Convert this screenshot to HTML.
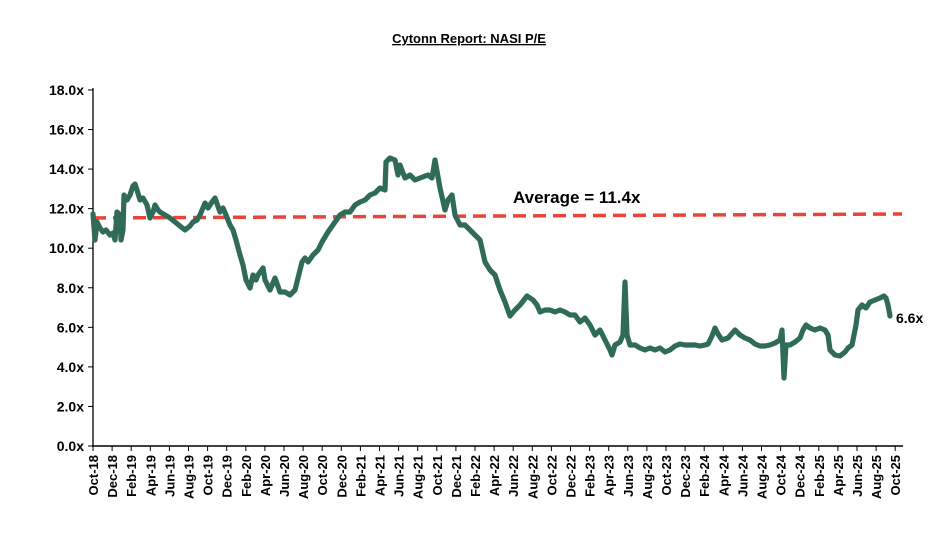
<!DOCTYPE html>
<html><head><meta charset="utf-8"><style>
body{margin:0;background:#fff;}
svg text{font-family:"Liberation Sans",Arial,sans-serif;font-weight:bold;fill:#000;}
</style></head><body>
<svg width="938" height="532" viewBox="0 0 938 532" xmlns="http://www.w3.org/2000/svg">
<text x="469" y="43" font-size="13" text-anchor="middle" text-decoration="underline">Cytonn Report: NASI P/E</text>
<line x1="93" y1="446" x2="93" y2="88" stroke="#000" stroke-width="1.3"/>
<line x1="92" y1="446" x2="903" y2="446" stroke="#000" stroke-width="1.5"/>
<g font-size="14" text-anchor="end" id="yl"></g>
<g id="ticks"></g>
<g id="xl" font-size="13"></g>
<line x1="93" y1="218" x2="902" y2="214" stroke="#e8443a" stroke-width="3.5" stroke-dasharray="13,7"/>
<polyline id="ser" fill="none" stroke="#2f6b58" stroke-width="5.2" stroke-linejoin="round" stroke-linecap="round" points="93,214 95,240 97,222 100,228 103,232 106,230 110,235 113,233 115,240 117,212 120,215 121,240 123,230 124,195 127,200 130,195 133,186 135,184 137,190 140,200 143,198 147,205 150,218 153,212 155,205 158,210 160,212 165,215 170,218 175,222 180,226 185,230 190,226 193,222 197,220 200,215 205,203 208,208 212,202 215,198 220,212 223,208 226,215 230,225 233,230 236,240 240,255 243,265 246,280 250,288 253,275 256,280 258,275 263,268 265,280 270,290 275,278 280,292 285,292 290,295 295,290 298,278 302,262 305,258 308,262 313,255 318,250 322,242 328,232 335,222 340,215 345,212 350,212 355,205 360,202 365,200 370,195 375,193 380,188 385,190 386,162 390,158 395,160 398,175 400,165 405,178 410,175 415,180 420,178 428,175 432,178 435,160 440,188 445,210 448,200 452,195 455,215 460,225 465,225 470,230 475,235 480,240 485,262 490,270 495,275 500,290 505,302 510,316 515,310 520,305 527,296 533,300 537,305 540,312 545,310 550,310 555,312 560,310 565,312 570,315 575,315 580,322 585,318 590,325 595,335 600,330 605,340 610,350 612,355 615,345 620,342 623,335 625,282 627,335 630,345 635,345 640,348 645,350 650,348 655,350 660,348 665,352 670,350 675,346 680,344 685,345 690,345 695,345 700,346 705,345 708,344 712,336 715,328 718,334 722,340 728,338 735,330 740,335 745,338 750,340 755,344 760,346 765,346 770,345 775,343 780,340 782,330 784,378 786,345 790,345 795,342 800,338 803,330 806,325 810,328 815,330 820,328 825,330 828,335 830,350 835,355 840,356 845,352 848,348 852,345 856,325 858,310 862,305 866,308 870,302 875,300 880,298 884,296 886,298 888,305 890,316"/>
<text x="513" y="203" font-size="17">Average = 11.4x</text>
<text x="896" y="323" font-size="14">6.6x</text>
<script>
var ns="http://www.w3.org/2000/svg";
var yl=document.getElementById('yl');
for(var i=0;i<=9;i++){var v=i*2,y=446-19.78*v;
var t=document.createElementNS(ns,'text');t.setAttribute('x',84);t.setAttribute('y',y+5);t.textContent=v.toFixed(1)+'x';yl.appendChild(t);
var l=document.createElementNS(ns,'line');l.setAttribute('x1',88);l.setAttribute('x2',93);l.setAttribute('y1',y);l.setAttribute('y2',y);l.setAttribute('stroke','#000');document.getElementById('ticks').appendChild(l);}
var mon=['Oct','Dec','Feb','Apr','Jun','Aug'];var xl=document.getElementById('xl');
for(var m=0;m<=42;m++){var x=93+19.1*m;var yr=18+Math.floor((m+4)/6);
var l=document.createElementNS(ns,'line');l.setAttribute('x1',x);l.setAttribute('x2',x);l.setAttribute('y1',446);l.setAttribute('y2',451);l.setAttribute('stroke','#000');document.getElementById('ticks').appendChild(l);
var t=document.createElementNS(ns,'text');t.setAttribute('transform','translate('+(x+5)+',455) rotate(-90)');t.setAttribute('text-anchor','end');t.textContent=mon[m%6]+'-'+yr;xl.appendChild(t);}
</script>
</svg>
</body></html>
